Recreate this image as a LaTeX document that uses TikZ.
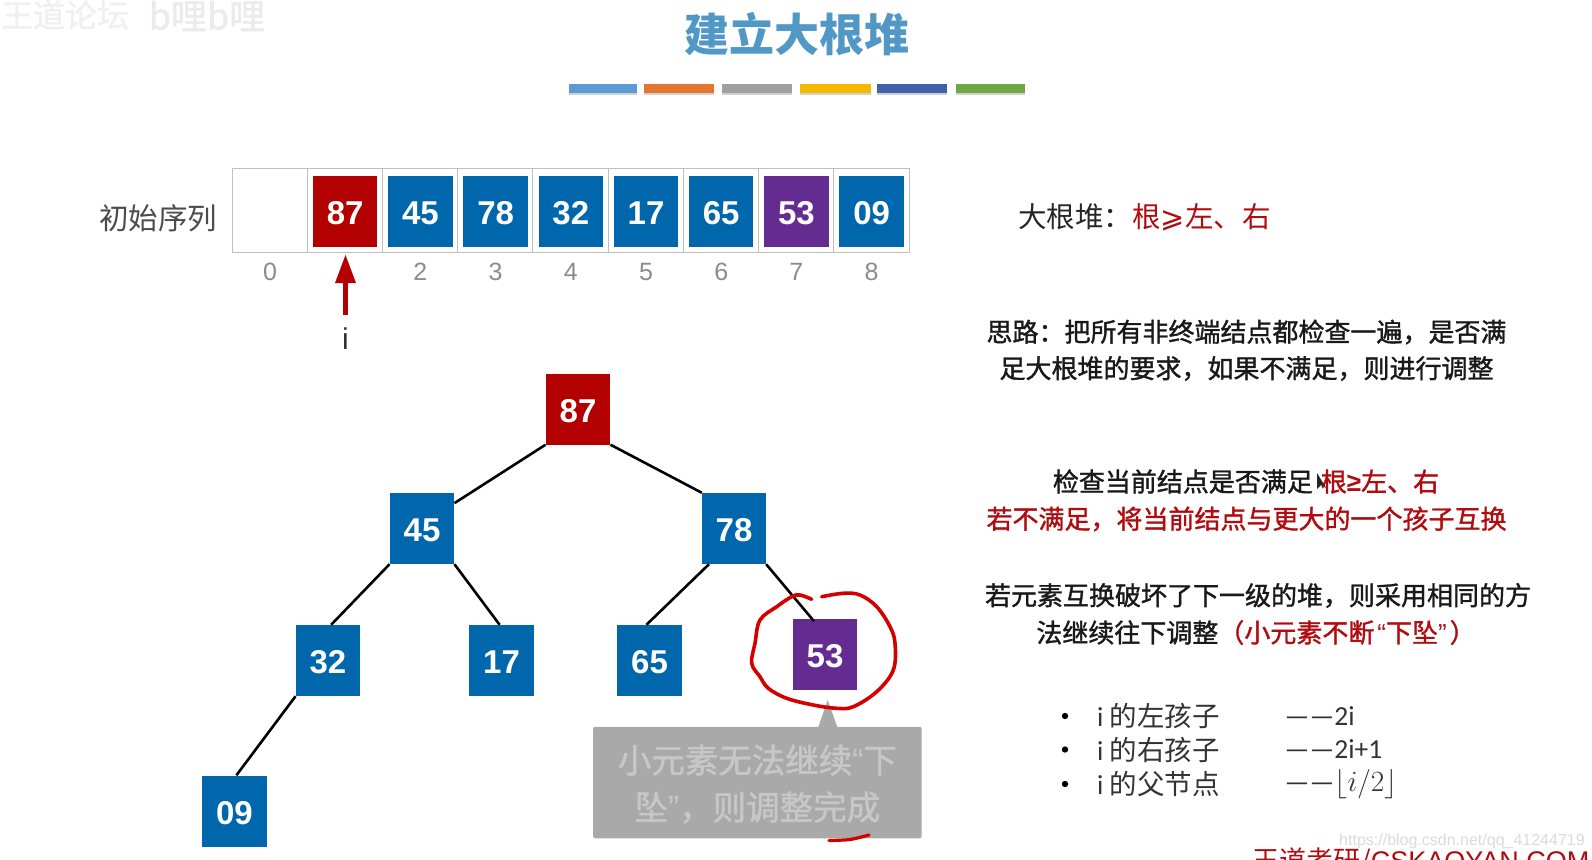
\documentclass[tikz,border=0pt]{standalone}
\usepackage{amssymb}
\usepackage{amsmath}
\usepackage{fontspec}
\setmainfont{Noto Sans CJK SC}
\newfontfamily\midfont[FakeBold=1.3]{Noto Sans CJK SC}
\newfontfamily\arialfont{Liberation Sans}
\newfontfamily\listfont{Carlito}
\newfontfamily\symfont{DejaVu Sans}
\definecolor{keyblue}{HTML}{0067AC}
\definecolor{keyred}{HTML}{B30000}
\definecolor{keypurple}{HTML}{642B90}
\definecolor{notered}{HTML}{B00C10}
\definecolor{circlered}{HTML}{D40000}
\definecolor{tipgrey}{HTML}{A9A9A9}
\tikzset{
  keybox/.style={minimum width=64.5pt,minimum height=71pt,inner sep=0pt,text=white,
    text height=26.5pt,text depth=0pt,font=\arialfont\bfseries\fontsize{33}{33}\selectfont},
  idxlabel/.style={text=black!45,font=\arialfont\fontsize{25}{25}\selectfont},
  noteline/.style={inner sep=0pt,text=black!90,font=\midfont\fontsize{26}{26}\selectfont},
  listline/.style={inner sep=0pt,anchor=west,text=black!80,font=\fontsize{27.5}{27.5}\selectfont},
  treeedge/.style={line width=2.6pt,black},
}
\newcommand{\opq}{\hspace{3pt}{\arialfont “}}
\newcommand{\clq}{{\arialfont ”}\hspace{3pt}}
\begin{document}
\begin{tikzpicture}[yscale=-1,x=1pt,y=1pt]
      \clip (0,0) rectangle (1592,859);
      \fill[white] (0,0) rectangle (1592,859);
      \node[text=black!6,font=\midfont\fontsize{32}{32}\selectfont] (forum) at (65,15) {王道论坛};
      \node[text=black!8,font=\midfont\fontsize{36}{36}\selectfont] (site) at (207,16) {b哩b哩};
      \node[text=keyblue!68!white,font=\bfseries\fontsize{45}{45}\selectfont] (title) at (797,34) {建立大根堆};
      \foreach \x/\w/\c in {568.5/68.5/5B9BD5,643.5/70.5/E2762F,722/70/A0A0A0,800/70.5/F5B800,877/70/3F62AF,956/69/6DA845} {
        \definecolor{barcol}{HTML}{\c}
        \fill[black!18] (\x,93) rectangle ++(\w,2);
        \fill[barcol] (\x,84) rectangle ++(\w,9);
      }
      % the array
      \draw[black!25,line width=1pt] (232,168) rectangle (909.4,252);
      \foreach \k in {1,...,8} {
        \draw[black!25,line width=1pt] ({232+75.2*\k},168) -- ({232+75.2*\k},252);
      }
      \foreach \v/\c [count=\k] in {87/keyred,45/keyblue,78/keyblue,32/keyblue,17/keyblue,65/keyblue,53/keypurple,09/keyblue} {
        \node[keybox,fill=\c] (a\k) at ({270+75.2*\k},211) {\v};
      }
      \node[idxlabel] (i0) at (270,272) {0};
      \foreach \k in {2,...,8} {
        \node[idxlabel] (i\k) at ({270+75.2*\k},272) {\k};
      }
      \node[text=black!70,font=\fontsize{29.5}{29.5}\selectfont] (seq) at (158,218) {初始序列};
      \coordinate (ptail) at (345.5,315);
      \coordinate (phead) at (345.5,255);
      \draw[keyred,line width=4.5pt] (ptail) -- (345.5,280);
      \fill[keyred] (phead) -- (356,283) -- (335,283) -- cycle;
      \node[text=black!80,font=\arialfont\fontsize{30}{30}\selectfont] (ptr) at (345.5,339) {i};
      % the tree
      \foreach \n/\c/\x/\y in {87/keyred/578/409,45/keyblue/422/528.5,78/keyblue/734/528.5,
          32/keyblue/328/660.5,17/keyblue/501.5/660.5,65/keyblue/649.5/660.5,53/keypurple/825/654.5,09/keyblue/234.5/811} {
        \node[keybox,fill=\c] (t\n) at (\x,\y) {\n};
      }
      \draw[treeedge] (t87.south west) -- (t45.38);
      \draw[treeedge] (t87.south east) -- (t78.132);
      \draw[treeedge] (t45.south west) -- (t32.85);
      \draw[treeedge] (t45.south east) -- (t17.93);
      \draw[treeedge] (t78.-125) -- (t65.95);
      \draw[treeedge,shorten >=-3pt] (t78.-48) -- (t53.110);
      \draw[treeedge] (t32.south west) -- (t09.87);
      % the tip under 53
      \node[fill=tipgrey,rounded corners=2pt,minimum width=328.5pt,minimum height=111.5pt,inner sep=0pt] (tip) at (757.4,782.5) {};
      \node[align=center,text=black!22,inner sep=0pt,font=\midfont\fontsize{33.5}{47}\selectfont] (tiptext) at (757.4,784) {小元素无法继续{\arialfont “}下\\坠{\arialfont ”}，则调整完成};
      \fill[tipgrey] (827.7,700) -- (837.3,727) -- (818.3,727) -- cycle;
      % pen marks
      \draw[circlered,line width=3.6pt,line cap=round] plot[smooth,tension=.6] coordinates {(811.7,599.3) (800,595) (791.7,596.7) (776.7,606.7) (760,620) (755,643.3) (751.7,663.3) (760,676.7) (768.3,688.3) (786.7,698.3) (813.3,705) (836.7,708.3) (853.3,706.7) (876.7,691.7) (893.3,670) (895,643.3) (890,626.7) (876.7,606.7) (860,595) (843.3,593.3) (821.7,596.7)};
      \draw[circlered,line width=3.2pt,line cap=round] plot[smooth] coordinates {(829,840.5) (850,839.5) (869,835)};
      % notes
      \node[anchor=west,inner sep=0pt,text=black!85,font=\fontsize{28.5}{28.5}\selectfont] (def) at (1018,217) {大根堆：\textcolor{notered}{根{\symfont\fontsize{29}{29}\selectfont ⩾}左、右}};
      \node[noteline] (n1) at (1246.5,332) {思路：把所有非终端结点都检查一遍，是否满};
      \node[noteline] (n2) at (1246.5,368.5) {足大根堆的要求，如果不满足，则进行调整};
      \node[noteline] (n3) at (1246,481.5) {检查当前结点是否满足\hspace{8pt}\textcolor{notered}{根{\arialfont\bfseries ≥}左、右}};
      \node[noteline,text=notered] (n4) at (1246.5,519) {若不满足，将当前结点与更大的一个孩子互换};
      \node[noteline] (n5) at (1258,595.5) {若元素互换破坏了下一级的堆，则采用相同的方};
      \node[noteline] (n6) at (1256,632.5) {法继续往下调整\textcolor{notered}{（小元素不断\opq 下坠\clq ）}};
      \fill[black!70!gray] (1317,473) -- (1317,489) -- (1321,485) -- (1326,488) -- cycle;
      \foreach \y/\a/\b in {716/左孩子/{\listfont 2i},749.5/右孩子/{\listfont 2i+1},784/父节点/{\scalebox{1.18}{$\lfloor i/2\rfloor$}}} {
        \fill[black] (1065,\y) circle (3.2pt);
        \node[listline] at (1097,\y) {{\listfont i} 的\a};
        \node[listline] at (1284.5,\y) {{\listfont ——}\b};
      }
      % page marks
      \node[anchor=west,inner sep=0pt,text=notered,font=\fontsize{27}{27}\selectfont] (brand) at (1252,862) {王道考研/{\arialfont CSKAOYAN.COM}};
      \node[anchor=west,inner sep=0pt,text=black!14,font=\arialfont\fontsize{16}{16}\selectfont] (url) at (1339,841) {https://blog.csdn.net/qq\_41244719};
    \end{tikzpicture}
\end{document}
